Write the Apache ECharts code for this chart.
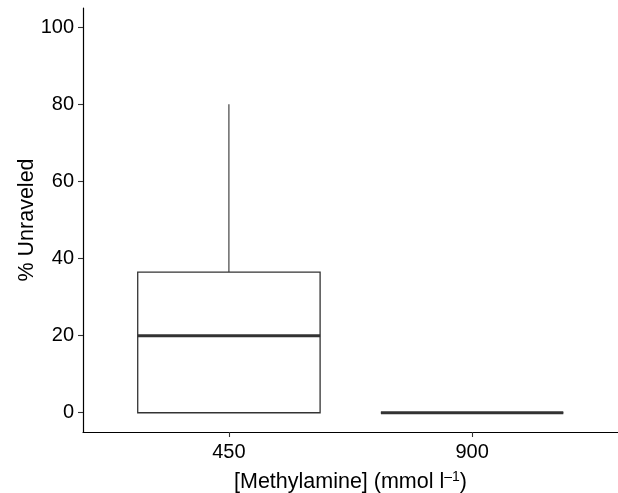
<!DOCTYPE html>
<html>
<head>
<meta charset="utf-8">
<script src="https://cdn.jsdelivr.net/npm/echarts@6/dist/echarts.min.js"></script>
<style>html,body{margin:0;padding:0;background:#fff;overflow:hidden}#c{width:618px;height:493px}</style>
</head>
<body>
<div id="c"></div>
<script>
// Data
var categories = ['450', '900'];
var lowerWhisker = [0, 0];
var q1Values = [0, 0];
var medianValues = [20, 0];
var q3Values = [36.5, 0];
var upperWhisker = [80, 0];
var yTicks = [0, 20, 40, 60, 80, 100];

var BOX_W = 0.75;
var seriesData = categories.map(function (c, i) {
  return [i + 1, lowerWhisker[i], q1Values[i], medianValues[i], q3Values[i], upperWhisker[i]];
});

var chart = echarts.init(document.getElementById('c'));
var font = 'Liberation Sans, Arial, Helvetica, sans-serif';
chart.setOption({
  animation: false,
  backgroundColor: '#fff',
  grid: { left: 83, right: 0, top: 8, bottom: 61, containLabel: false, outerBoundsMode: 'none' },
  xAxis: {
    type: 'value', min: 0.4, max: 2.6,
    name: '[Methylamine] (mmol l{sup|–1})',
    nameLocation: 'middle', nameGap: 38,
    nameMoveOverlap: false,
    nameTextStyle: {
      color: '#000', fontSize: 21.5, fontFamily: font,
      rich: { sup: { fontSize: 14, verticalAlign: 'top', color: '#000', fontFamily: font, padding: [0, 0, 10, 0] } }
    },
    splitLine: { show: false },
    axisLine: { show: true, onZero: false, lineStyle: { color: '#000', width: 1.2 } },
    axisTick: { show: true, length: 5, customValues: [1, 2], lineStyle: { color: '#333', width: 1.1 } },
    axisLabel: {
      customValues: [1, 2], margin: 10, color: '#000', fontSize: 20, fontFamily: font,
      formatter: function (v) { return categories[Math.round(v) - 1] || ''; }
    }
  },
  yAxis: {
    type: 'value', min: -5, max: 105,
    name: '% Unraveled', nameLocation: 'middle', nameGap: 45, nameRotate: 90,
    nameMoveOverlap: false,
    nameTextStyle: { color: '#000', fontSize: 21.5, fontFamily: font },
    splitLine: { show: false },
    axisLine: { show: true, onZero: false, lineStyle: { color: '#000', width: 1.2 } },
    axisTick: { show: true, length: 5, customValues: yTicks, lineStyle: { color: '#333', width: 1.1 } },
    axisLabel: { customValues: yTicks, margin: 9, color: '#000', fontSize: 20, fontFamily: font }
  },
  series: [{
    type: 'custom',
    data: seriesData,
    encode: { x: 0, y: [1, 2, 3, 4, 5] },
    renderItem: function (params, api) {
      var x = api.value(0);
      var lo = api.coord([x, api.value(1)]);
      var q1 = api.coord([x, api.value(2)]);
      var med = api.coord([x, api.value(3)]);
      var q3 = api.coord([x, api.value(4)]);
      var hi = api.coord([x, api.value(5)]);
      var hw = api.size([BOX_W, 0])[0] / 2;
      var stroke = '#333333';
      return {
        type: 'group',
        children: [
          { type: 'line', shape: { x1: hi[0], y1: hi[1], x2: q3[0], y2: q3[1] }, style: { stroke: stroke, lineWidth: 1.1 } },
          { type: 'line', shape: { x1: lo[0], y1: lo[1], x2: q1[0], y2: q1[1] }, style: { stroke: stroke, lineWidth: 1.1 } },
          { type: 'rect', shape: { x: q3[0] - hw, y: q3[1], width: hw * 2, height: q1[1] - q3[1] }, style: { fill: '#fff', stroke: stroke, lineWidth: 1.3 } },
          { type: 'line', shape: { x1: med[0] - hw, y1: med[1], x2: med[0] + hw, y2: med[1] }, style: { stroke: stroke, lineWidth: 3 } }
        ]
      };
    }
  }]
});
</script>
</body>
</html>
